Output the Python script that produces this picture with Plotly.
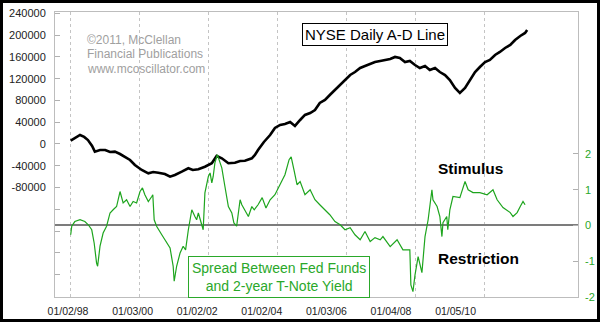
import plotly.graph_objects as go

# ---------------- data ----------------
ad_years = [1998.00, 1998.12, 1998.27, 1998.39, 1998.50, 1998.62, 1998.70, 1998.85, 1999.00, 1999.14,
            1999.28, 1999.43, 1999.57, 1999.72, 1999.86, 2000.06, 2000.25, 2000.39, 2000.54, 2000.73,
            2000.88, 2001.02, 2001.22, 2001.41, 2001.54, 2001.70, 2001.89, 2002.09, 2002.23, 2002.38,
            2002.57, 2002.76, 2002.91, 2003.05, 2003.25, 2003.34, 2003.43, 2003.60, 2003.78, 2003.92,
            2004.07, 2004.21, 2004.36, 2004.50, 2004.65, 2004.79, 2004.94, 2005.08, 2005.22, 2005.37,
            2005.51, 2005.66, 2005.80, 2005.95, 2006.10, 2006.24, 2006.39, 2006.53, 2006.68, 2006.82,
            2006.97, 2007.11, 2007.26, 2007.40, 2007.54, 2007.69, 2007.83, 2007.98, 2008.12, 2008.27,
            2008.41, 2008.56, 2008.70, 2008.85, 2008.99, 2009.14, 2009.28, 2009.43, 2009.57, 2009.72,
            2009.86, 2010.01, 2010.15, 2010.30, 2010.44, 2010.59, 2010.74, 2010.88, 2011.03, 2011.17,
            2011.23]
ad_values = [6000, 11000, 16500, 13000, 7300, -3700, -14100, -11000, -11000, -14700,
             -14100, -18400, -23300, -29400, -38600, -47700, -53800, -51400, -52700, -55100,
             -60000, -56900, -50900, -44600, -47700, -46500, -41700, -35400, -22000, -26300,
             -35400, -34300, -31200, -30700, -26300, -20200, -11000, 3700, 16500, 29400,
             34900, 36700, 40400, 33100, 44100, 53300, 56900, 62400, 75300, 80800,
             90000, 99200, 108400, 117500, 126700, 132200, 139600, 143200, 146900, 150600,
             152400, 154300, 156100, 159800, 157900, 150600, 152400, 145100, 139600, 143200,
             135900, 139600, 132200, 126700, 117500, 102800, 93700, 102800, 117500, 132200,
             141400, 150600, 154300, 163400, 169000, 176300, 181800, 191000, 198300, 203900,
             209400]

spread_years = [1998.00, 1998.03, 1998.12, 1998.27, 1998.41, 1998.51, 1998.61, 1998.68, 1998.75, 1998.78,
                1998.85, 1998.94, 1999.04, 1999.14, 1999.23, 1999.33, 1999.43, 1999.52, 1999.62, 1999.72,
                1999.81, 1999.91, 2000.01, 2000.08, 2000.15, 2000.25, 2000.35, 2000.38, 2000.42, 2000.49,
                2000.64, 2000.73, 2000.88, 2000.97, 2001.00, 2001.07, 2001.17, 2001.26, 2001.33, 2001.41,
                2001.51, 2001.60, 2001.65, 2001.70, 2001.80, 2001.84, 2001.89, 2001.99, 2002.04, 2002.09,
                2002.13, 2002.18, 2002.25, 2002.33, 2002.38, 2002.47, 2002.57, 2002.67, 2002.73, 2002.81,
                2002.86, 2002.91, 2002.96, 2003.05, 2003.15, 2003.25, 2003.32, 2003.43, 2003.55, 2003.66,
                2003.78, 2003.92, 2004.07, 2004.21, 2004.33, 2004.39, 2004.47, 2004.56, 2004.65, 2004.79,
                2004.94, 2005.08, 2005.22, 2005.37, 2005.51, 2005.66, 2005.81, 2005.95, 2006.10, 2006.24,
                2006.39, 2006.53, 2006.68, 2006.82, 2006.97, 2007.05, 2007.26, 2007.46, 2007.63, 2007.83,
                2007.86, 2007.92, 2007.98, 2008.07, 2008.18, 2008.27, 2008.36, 2008.47, 2008.50, 2008.62,
                2008.70, 2008.76, 2008.79, 2008.90, 2008.93, 2008.99, 2009.08, 2009.28, 2009.43, 2009.52,
                2009.66, 2009.86, 2010.07, 2010.24, 2010.36, 2010.53, 2010.74, 2010.82, 2010.94, 2011.03,
                2011.11, 2011.17]
spread_values = [-0.26, -0.02, 0.11, 0.16, 0.11, 0.02, -0.12, -0.49, -1.05, -1.14,
                 -0.58, -0.21, -0.02, 0.35, 0.44, 0.53, 0.95, 0.63, 0.72, 0.53,
                 0.67, 0.63, 0.95, 1.05, 0.86, 0.67, 0.81, 0.86, 0.16, -0.02,
                 -0.26, -0.40, -0.63, -1.14, -1.56, -1.14, -0.77, -0.58, -0.68, -0.12,
                 0.44, 0.25, 0.16, 0.35, -0.02, -0.12, 0.91, 1.37, 1.47, 1.19,
                 1.37, 1.75, 1.98, 1.75, 1.61, 1.09, 0.53, 0.35, 0.07, -0.02,
                 0.35, 0.72, 0.58, 0.44, 0.25, 0.53, 0.44, 0.58, 0.78, 0.49,
                 0.72, 0.86, 1.14, 1.42, 1.84, 1.92, 1.56, 1.14, 1.23, 0.86,
                 1.00, 0.72, 0.58, 0.44, 0.30, 0.11, 0.02, -0.12, -0.06, -0.26,
                 -0.40, -0.17, -0.45, -0.34, -0.40, -0.31, -0.59, -0.40, -0.68, -0.68,
                 -1.66, -1.85, -1.38, -0.87, -1.32, -0.31, 0.16, 1.00, 0.72, 0.53,
                 0.25, -0.31, 0.08, 0.25, -0.12, 0.44, 0.81, 0.78, 1.23, 1.00,
                 0.92, 0.92, 0.86, 1.00, 0.72, 0.50, 0.36, 0.25, 0.36, 0.53,
                 0.67, 0.58]

assert len(ad_years) == len(ad_values)
assert len(spread_years) == len(spread_values)

x_tick_labels = ["01/02/98", "01/03/00", "01/02/02", "01/02/04", "01/03/06", "01/04/08", "01/05/10"]
grid_years = [1998, 2000, 2002, 2004, 2006, 2008, 2010]
left_tick_values = list(range(-280000, 240001, 40000))
left_tick_text = [str(v) if v >= -80000 else "" for v in left_tick_values]
right_tick_values = [-2, -1, 0, 1, 2]
right_tick_text = ["-2", "-1", "0", "1", "2"]

# ---------------- styling ----------------
FONT = "Liberation Sans, Arial, sans-serif"
GREEN = "#1ea51e"
TEXT_GREEN = "#2aa82a"
FRAME = "#bdbdbd"

fig = go.Figure()

# helper (empty) trace so that the label axis is instantiated
fig.add_trace(go.Scatter(x=[], y=[], xaxis="x2", yaxis="y", showlegend=False, hoverinfo="skip"))

fig.add_trace(go.Scatter(x=ad_years, y=ad_values, mode="lines", xaxis="x", yaxis="y",
                         line=dict(color="black", width=2.6), showlegend=False))
fig.add_trace(go.Scatter(x=spread_years, y=spread_values, mode="lines", xaxis="x", yaxis="y2",
                         line=dict(color=GREEN, width=1.2), showlegend=False))

fig.update_layout(
    width=600, height=322, autosize=False,
    margin=dict(l=55, r=22, t=12, b=25, pad=0, autoexpand=False),
    plot_bgcolor="white", paper_bgcolor="white",
    font=dict(family=FONT, size=11, color="#222"),
    showlegend=False,
    xaxis=dict(range=[1997.545, 2012.704], tickvals=grid_years, showticklabels=False,
               showgrid=True, gridcolor="#c4c4c4", griddash="dot", gridwidth=1, automargin=False,
               ticks="", zeroline=False, showline=True, linecolor=FRAME, linewidth=1, mirror=True),
    xaxis2=dict(overlaying="x", side="bottom", anchor="y", range=[-0.2012, 7.8947],
                tickvals=list(range(len(x_tick_labels))), ticktext=x_tick_labels, automargin=False,
                showgrid=False, zeroline=False, ticks="outside", ticklen=4,
                tickcolor="rgba(0,0,0,0)", showline=False,
                tickfont=dict(size=10.5, color="#222")),
    yaxis=dict(range=[-281000, 242400], tickvals=left_tick_values, ticktext=left_tick_text,
               ticks="inside", ticklen=5, tickcolor="#b0b0b0", showgrid=False, zeroline=False,
               showline=True, linecolor=FRAME, mirror=True, automargin=False,
               tickfont=dict(size=11, color="#222"), ticklabelstandoff=6),
    yaxis2=dict(overlaying="y", side="right", anchor="x", range=[-2.0, 5.97],
                tickvals=right_tick_values, ticktext=right_tick_text, automargin=False,
                ticks="inside", ticklen=5, tickcolor="#b0b0b0", showgrid=False,
                zeroline=True, zerolinecolor="#7c7c7c", zerolinewidth=2,
                showline=False, tickfont=dict(size=11, color=TEXT_GREEN), ticklabelstandoff=6),
)

# outer black frame of the picture
fig.add_shape(type="rect", xref="paper", yref="paper",
              x0=-0.10229, x1=1.03920, y0=-0.08246, y1=1.03684,
              line=dict(color="black", width=3), fillcolor="rgba(0,0,0,0)", layer="above")

# copyright lines
for txt, yy in [("©2011, McClellan", 0.9018), ("Financial Publications", 0.8509),
                ("www.mcoscillator.com", 0.8000)]:
    fig.add_annotation(text=txt, xref="paper", yref="paper", x=0.0574, y=yy,
                       xanchor="left", yanchor="middle", showarrow=False,
                       font=dict(family=FONT, size=12, color="#a0a0a0"))

fig.add_annotation(text="NYSE Daily A-D Line", xref="paper", yref="paper", x=0.6109, y=0.9211,
                   xanchor="center", yanchor="middle", showarrow=False,
                   font=dict(family=FONT, size=15, color="black"),
                   bordercolor="black", borderwidth=1, borderpad=2, bgcolor="white")

fig.add_annotation(text="<b>Stimulus</b>", xref="paper", yref="paper", x=0.7935, y=0.4526,
                   xanchor="center", yanchor="middle", showarrow=False,
                   font=dict(family=FONT, size=15.5, color="black"))
fig.add_annotation(text="<b>Restriction</b>", xref="paper", yref="paper", x=0.8107, y=0.1368,
                   xanchor="center", yanchor="middle", showarrow=False,
                   font=dict(family=FONT, size=15.5, color="black"))

fig.add_annotation(text="Spread Between Fed Funds<br>and 2-year T-Note Yield",
                   xref="paper", yref="paper", x=0.4283, y=0.0702,
                   xanchor="center", yanchor="middle", showarrow=False, align="center",
                   font=dict(family=FONT, size=14, color=TEXT_GREEN),
                   bordercolor=TEXT_GREEN, borderwidth=1, borderpad=3, bgcolor="white")

fig.write_html("out.html", config={"responsive": False, "displayModeBar": False},
               post_script=("document.documentElement.style.margin='0';"
                            "document.body.style.margin='0';document.body.style.padding='0';"
                            "document.body.style.overflow='hidden';"))
